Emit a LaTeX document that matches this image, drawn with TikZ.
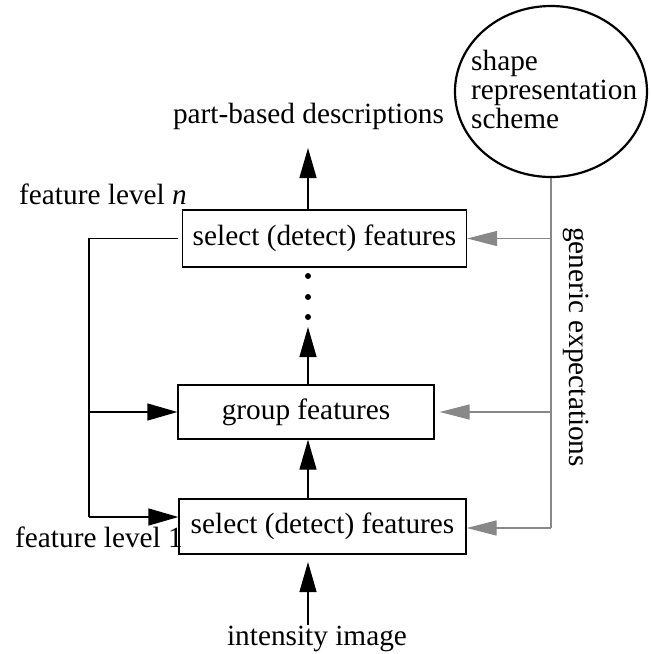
\documentclass[tikz,border=0pt]{standalone}
\usepackage{fontspec}
\setmainfont{Liberation Serif}
\usetikzlibrary{arrows.meta,shapes.geometric}
\definecolor{expgray}{HTML}{888888}
\begin{document}
\begin{tikzpicture}[x=1pt,y=-1pt,
  every node/.style={font=\fontsize{29.3}{29.3}\selectfont, inner sep=0pt},
  procbox/.style={draw=black, line width=1.3pt, rectangle},
  blk/.style={line width=1.3pt, -{Triangle[length=30pt,width=17pt]}},
  gry/.style={line width=1.3pt, draw=expgray, -{Triangle[length=30pt,width=15pt]}, color=expgray},
  plain/.style={line width=1.3pt},
  dotmark/.style={circle, fill=black, minimum size=6pt, inner sep=0pt}]
\useasboundingbox (0,0) rectangle (651,654);

% boxes
\node[procbox, minimum width=284pt, minimum height=57pt] (top) at (324.5,238.5) {select (detect) features};
\node[procbox, minimum width=256pt, minimum height=54pt] (grp) at (306,412) {group features};
\node[procbox, minimum width=287pt, minimum height=55pt] (bot) at (322.5,526.5) {select (detect) features};

% ellipse
\node[draw, line width=2.2pt, ellipse, minimum width=192pt, minimum height=171pt] (shp) at (551,91.5) {};
\node[anchor=base west] (s1) at (471,70) {shape};
\node[anchor=base west] (s2) at (471,99) {representation};
\node[anchor=base west] (s3) at (471,128) {scheme};

% labels
\node[anchor=base] (pbd) at (308.5,123) {part-based descriptions};
\node[anchor=base] (img) at (317,645) {intensity image};
\node[anchor=base west] (fln) at (19,204.5) {feature level \textit{n}};
\node[anchor=base west] (fl1) at (15,547) {feature level 1};
\node[rotate=-90] (gen) at (576,347) {generic expectations};

% coordinates
\coordinate (tipA) at (308,148);
\coordinate (tipB) at (308,327);
\coordinate (tipC) at (308,562);
\coordinate (imgtop) at (308,625);
\coordinate (lx) at (89,0);
\coordinate (gx) at (551,0);

% dots
\node[dotmark] (d1) at (308,276) {};
\node[dotmark] (d2) at (308,297) {};
\node[dotmark] (d3) at (308,317) {};

% vertical black arrows
\draw[blk] (top.north -| tipA) -- (tipA);
\draw[blk] (grp.north -| tipB) -- (tipB);
\draw[blk] (bot.north -| tipB) -- (grp.south -| tipB);
\draw[blk] (imgtop) -- (tipC);

% left feedback connector
\coordinate (ltop) at (178,238.5);
\coordinate (lbot) at (89,517);
\draw[plain] (ltop) -- (ltop -| lx) -- (lbot);
\draw[blk] (lbot) -- (bot.west |- lbot);
\draw[blk] (grp.west -| lx) -- (grp.west);

% gray generic expectations
\coordinate (gbot) at (551,528);
\draw[line width=1.3pt, expgray] (shp.south) -- (gbot);
\draw[gry] (top.east -| gx) -- (top.east);
\draw[gry] (grp.east -| gx) -- ([xshift=5pt]grp.east);
\draw[gry] (gbot) -- (bot.east |- gbot);
\end{tikzpicture}
\end{document}
